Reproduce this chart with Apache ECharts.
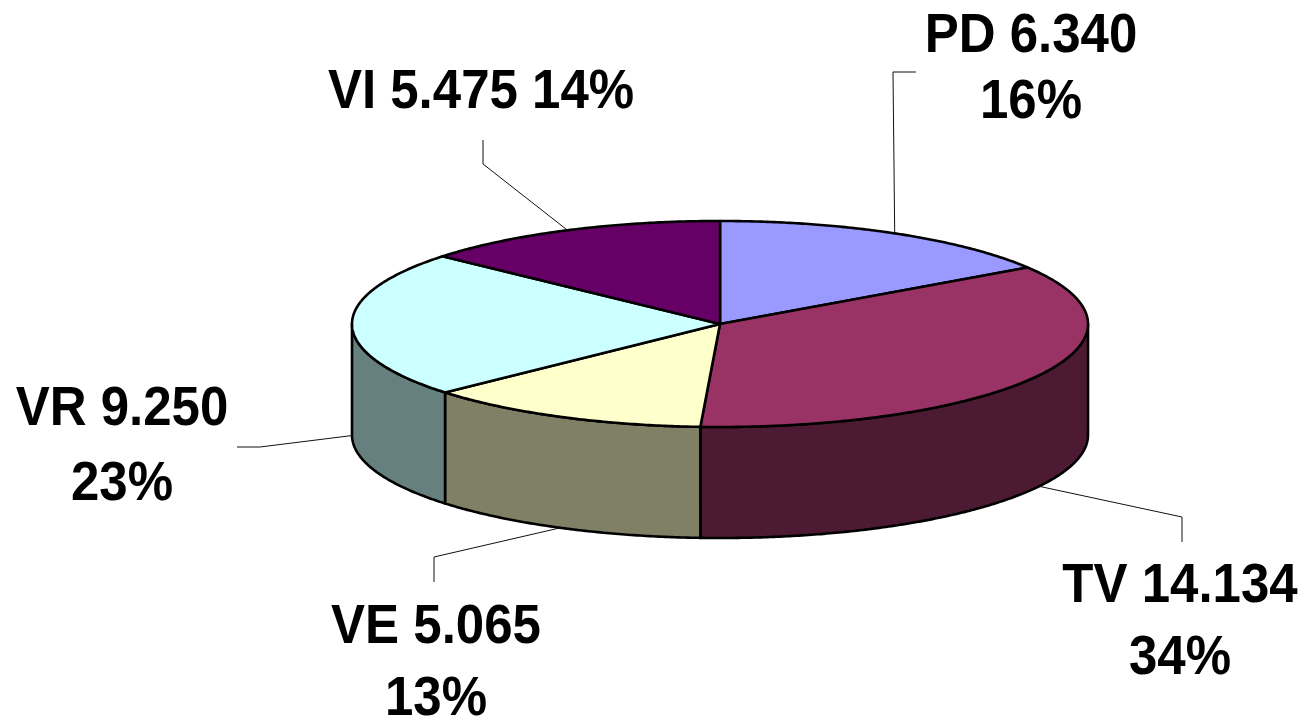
<!DOCTYPE html>
<html>
<head>
<meta charset="utf-8">
<script src="https://cdn.jsdelivr.net/npm/echarts@6/dist/echarts.min.js"></script>
<style>
html,body{margin:0;padding:0;background:#fff;}
#chart{width:1308px;height:722px;}
</style>
</head>
<body>
<div id="chart"></div>
<script>
// ---- data ----
const names = ['PD', 'TV', 'VE', 'VR', 'VI'];
const values = [6.340, 14.134, 5.065, 9.250, 5.475];
const percents = [16, 34, 13, 23, 14];
const topColors = ['#9999FF', '#993366', '#FFFFCC', '#CCFFFF', '#660066'];
const sideColors = ['#4D4D80', '#4D1A33', '#808066', '#668080', '#330033'];

// ---- layout (pixels) ----
const G = { cx: 720, cy: 324, rx: 368, ry: 103, depth: 111, startAngle: 90 };
const labelLayout = [
  { path: [[893, 72], [916, 72]], x: 1031, lines: [37, 103] },
  { path: [[1182, 517], [1182, 542]], x: 1180, lines: [587, 659] },
  { path: [[434, 557], [434, 582]], x: 436, lines: [628, 700] },
  { path: [[260, 447], [237, 447]], x: 122, lines: [410, 485] },
  { path: [[483, 164], [483, 140]], x: 481, lines: [93] }
];

const total = values.reduce((a, b) => a + b, 0);
const angles = [];
let acc = G.startAngle;
values.forEach(v => { const a0 = acc; acc -= v / total * 360; angles.push([a0, acc]); });

function pt(deg, dy) {
  const r = deg * Math.PI / 180;
  return [G.cx + G.rx * Math.cos(r), G.cy - G.ry * Math.sin(r) + (dy || 0)];
}
function arc(a0, a1, dy) {
  const pts = [];
  const n = Math.max(2, Math.ceil(Math.abs(a0 - a1) / 0.5));
  for (let i = 0; i <= n; i++) pts.push(pt(a0 + (a1 - a0) * i / n, dy));
  return pts;
}

function renderItem(params, api) {
  const i = params.dataIndex;
  const [a0, a1] = angles[i];
  const children = [];
  // front wall (angles between -180 and 0)
  const hi = Math.min(a0, 0), lo = Math.max(a1, -180);
  if (hi > lo) {
    const pts = arc(hi, lo, 0).concat(arc(lo, hi, G.depth));
    children.push({ type: 'polygon', z2: 1, shape: { points: pts },
      style: { fill: sideColors[i], stroke: '#000', lineWidth: 2.6, lineJoin: 'round' } });
  }
  // top face
  const top = [[G.cx, G.cy]].concat(arc(a0, a1, 0));
  children.push({ type: 'polygon', z2: 5, shape: { points: top },
    style: { fill: topColors[i], stroke: '#000', lineWidth: 2.6, lineJoin: 'round' } });
  // leader line
  const mid = (a0 + a1) / 2;
  const s = Math.sin(mid * Math.PI / 180) < 0 ? pt(mid, G.depth) : pt(mid, 0);
  const L = labelLayout[i];
  children.push({ type: 'polyline', z2: 8, shape: { points: [s].concat(L.path) },
    style: { stroke: '#111', lineWidth: 1, fill: null } });
  // label text
  const v = api.value(0).toFixed(3);
  const txt = L.lines.length === 1
    ? [names[i] + ' ' + v + ' ' + percents[i] + '%']
    : [names[i] + ' ' + v, percents[i] + '%'];
  txt.forEach((t, k) => {
    children.push({ type: 'text', z2: 10, x: L.x, y: L.lines[k], scaleY: 1.07, style: {
      text: t, x: 0, y: 0, align: 'center', verticalAlign: 'middle',
      font: 'bold 51px "Liberation Sans", Arial, sans-serif', fill: '#000' } });
  });
  return { type: 'group', children };
}

const chart = echarts.init(document.getElementById('chart'), null, { renderer: 'canvas' });
chart.setOption({
  animation: false,
  backgroundColor: '#fff',
  series: [{
    type: 'custom',
    coordinateSystem: 'none',
    renderItem: renderItem,
    data: values.map((v, i) => ({ name: names[i], value: [v] }))
  }]
});
</script>
</body>
</html>
